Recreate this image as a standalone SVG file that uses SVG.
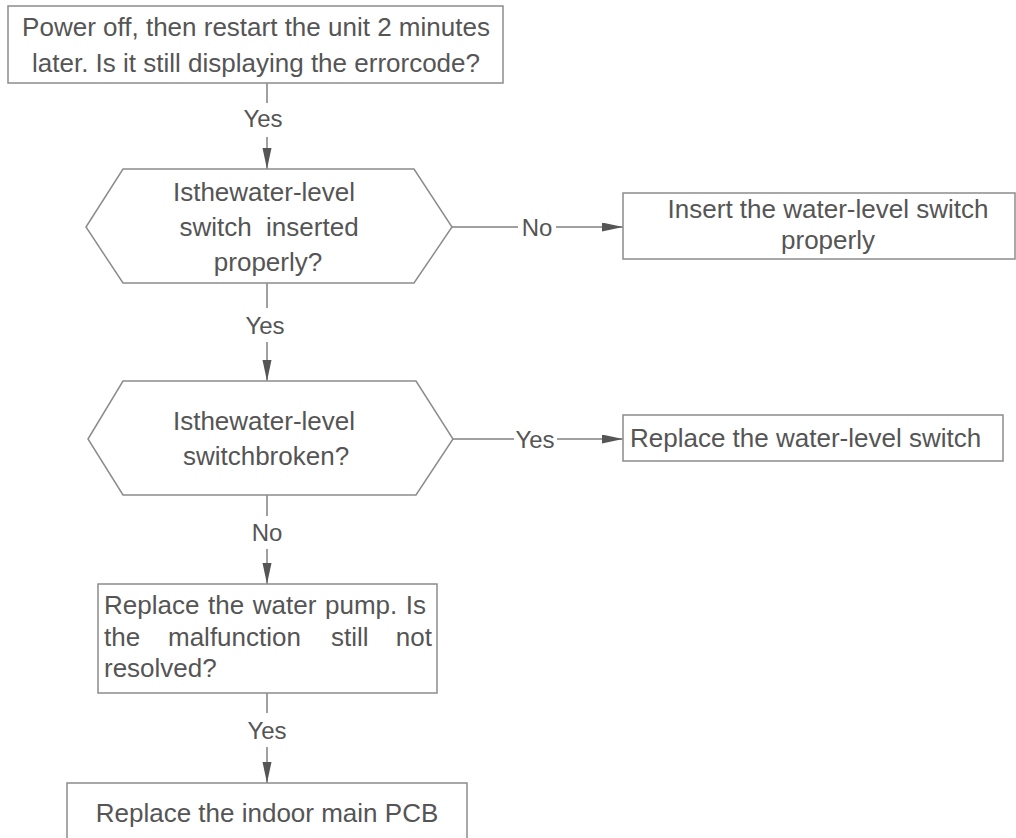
<svg xmlns="http://www.w3.org/2000/svg" width="1016" height="838" viewBox="0 0 1016 838">
  <style>
    .box{fill:#fff;stroke:#8c8c8c;stroke-width:1.5}
    .t{font-family:"Liberation Sans",Arial,sans-serif;font-size:26px;fill:#555555}
    .c{text-anchor:middle}
    .lbl{font-family:"Liberation Sans",Arial,sans-serif;font-size:24px;fill:#555555;text-anchor:middle}
    .ln{fill:none;stroke:#808080;stroke-width:1.5}
  </style>
  <defs>
    <marker id="arr" markerUnits="userSpaceOnUse" markerWidth="22" markerHeight="10" refX="21" refY="4.5" orient="auto">
      <path d="M0,0 L21,4.5 L0,9 z" fill="#555555"/>
    </marker>
  </defs>
  <rect width="1016" height="838" fill="#fff"/>

  <g id="connectors">
    <line class="ln" x1="267" y1="83" x2="267" y2="103"/>
    <line class="ln" x1="267" y1="137" x2="267" y2="169" marker-end="url(#arr)"/>
    <text class="lbl" x="263" y="127">Yes</text>

    <line class="ln" x1="452" y1="227" x2="518" y2="227"/>
    <line class="ln" x1="556" y1="227" x2="623" y2="227" marker-end="url(#arr)"/>
    <text class="lbl" x="537" y="236">No</text>

    <line class="ln" x1="267" y1="283" x2="267" y2="308"/>
    <line class="ln" x1="267" y1="342" x2="267" y2="381" marker-end="url(#arr)"/>
    <text class="lbl" x="265" y="334">Yes</text>

    <line class="ln" x1="453" y1="439" x2="514" y2="439"/>
    <line class="ln" x1="557" y1="439" x2="623" y2="439" marker-end="url(#arr)"/>
    <text class="lbl" x="535" y="448">Yes</text>

    <line class="ln" x1="267" y1="495" x2="267" y2="516"/>
    <line class="ln" x1="267" y1="549" x2="267" y2="584" marker-end="url(#arr)"/>
    <text class="lbl" x="267" y="541">No</text>

    <line class="ln" x1="267" y1="693" x2="267" y2="713"/>
    <line class="ln" x1="267" y1="747" x2="267" y2="783" marker-end="url(#arr)"/>
    <text class="lbl" x="267" y="739">Yes</text>
  </g>

  <g id="start">
    <rect class="box" x="8" y="6" width="495" height="77"/>
    <text class="t c" x="256" y="36">Power off, then restart the unit 2 minutes</text>
    <text class="t c" x="256" y="72">later. Is it still displaying the errorcode?</text>
  </g>

  <g id="dec1">
    <polygon class="box" points="86,227 123,169 414,169 452,227 414,283 123,283"/>
    <text class="t c" x="264" y="201">Isthewater-level</text>
    <text class="t c" x="269" y="236" xml:space="preserve">switch  inserted</text>
    <text class="t c" x="268" y="271">properly?</text>
  </g>

  <g id="insert">
    <rect class="box" x="623" y="193" width="392" height="66"/>
    <text class="t c" x="828" y="218">Insert the water-level switch</text>
    <text class="t c" x="828" y="249">properly</text>
  </g>

  <g id="dec2">
    <polygon class="box" points="88,439 123,381 416,381 453,439 416,495 123,495"/>
    <text class="t c" x="264" y="430">Isthewater-level</text>
    <text class="t c" x="266" y="465">switchbroken?</text>
  </g>

  <g id="replaceSwitch">
    <rect class="box" x="623" y="415" width="380" height="46"/>
    <text class="t" x="630" y="447">Replace the water-level switch</text>
  </g>

  <g id="pump">
    <rect class="box" x="98" y="584" width="339" height="109"/>
    <text class="t" x="104" y="614" word-spacing="1.4">Replace the water pump. Is</text>
    <text class="t" x="104" y="646">the</text>
    <text class="t" x="168" y="646">malfunction</text>
    <text class="t" x="331" y="646">still</text>
    <text class="t" x="432" y="646" text-anchor="end">not</text>
    <text class="t" x="104" y="677">resolved?</text>
  </g>

  <g id="pcb">
    <rect class="box" x="67" y="783" width="400" height="70"/>
    <text class="t c" x="267" y="822">Replace the indoor main PCB</text>
  </g>
</svg>
